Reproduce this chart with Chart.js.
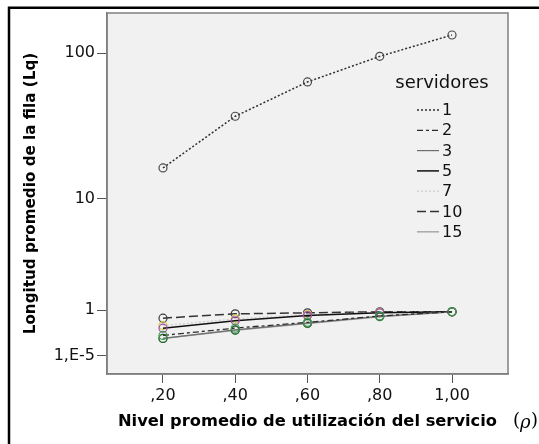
<!DOCTYPE html>
<html>
<head>
<meta charset="utf-8">
<script src="https://cdn.jsdelivr.net/npm/chart.js@4/dist/chart.umd.min.js"></script>
<style>
  html, body { margin: 0; padding: 0; background: #fff; }
  #wrap { width: 539px; height: 444px; position: relative; }
</style>
</head>
<body>
<div id="wrap"><canvas id="c" width="539" height="444"></canvas></div>
<script>
// Utilization levels (rho) and their axis labels
const RHO = [0.2, 0.4, 0.6, 0.8, 1.0];
const X_LABELS = [',20', ',40', ',60', ',80', '1,00'];

// Queue-length axis ticks
const Y_TICKS = [0.00001, 1, 10, 100];
const Y_LABELS = ['1,E-5', '1', '10', '100'];

// Number of servers for each series
const SERVERS = ['1', '2', '3', '5', '7', '10', '15'];

// Average queue length (Lq) per utilization level
const lq1  = [16.5, 37.5, 64, 95, 132];
const lq2  = [0.36, 0.52, 0.66, 0.83, 0.95];
const lq3  = [0.30, 0.48, 0.64, 0.82, 0.95];
const lq5  = [0.52, 0.70, 0.84, 0.92, 0.95];
const lq7  = [0.58, 0.75, 0.87, 0.93, 0.95];
const lq10 = [0.77, 0.89, 0.92, 0.95, 0.95];
const lq15 = [0.30, 0.47, 0.63, 0.81, 0.95];
const SERIES = [lq1, lq2, lq3, lq5, lq7, lq10, lq15];

// Line and marker look of each series
const STYLES = [
  { line: '#2e2e2e', dash: [2, 2],       width: 1.5, mark: '#4a4a4a' },
  { line: '#2e2e2e', dash: [6, 3, 3, 3], width: 1.3, mark: '#3f9a52' },
  { line: '#6e6e6e', dash: [],           width: 1.2, mark: '#2f5f38' },
  { line: '#111111', dash: [],           width: 1.5, mark: '#a04aa8' },
  { line: '#cfcfcf', dash: [2, 2],       width: 1.3, mark: '#d8c850' },
  { line: '#333333', dash: [9, 4],       width: 1.5, mark: '#3c3c3c' },
  { line: '#a8a8a8', dash: [],           width: 1.5, mark: '#4fa05a' }
];

const FONT = 'DejaVu Sans';

// "Safe log" scale: position follows sign(v)*log10(|v|+1)
const slog = v => Math.sign(v) * Math.log10(Math.abs(v) + 1);
const islog = t => Math.sign(t) * (Math.pow(10, Math.abs(t)) - 1);

class SafeLogScale extends Chart.LinearScale {
  static id = 'safelog';
  static defaults = Chart.LinearScale.defaults;
  buildTicks() {
    return Y_TICKS.map(v => ({ value: v }));
  }
  configure() {
    super.configure();
    this._tMin = slog(this.min);
    this._tMax = slog(this.max);
  }
  getPixelForValue(v) {
    return this.getPixelForDecimal((slog(v) - this._tMin) / (this._tMax - this._tMin));
  }
  getValueForPixel(p) {
    return islog(this._tMin + this.getDecimalForPixel(p) * (this._tMax - this._tMin));
  }
}
Chart.register(SafeLogScale);

const datasets = SERIES.map((vals, i) => ({
  label: SERVERS[i],
  data: vals.map((v, k) => ({ x: RHO[k], y: v })),
  borderColor: STYLES[i].line,
  borderDash: STYLES[i].dash,
  borderWidth: STYLES[i].width,
  pointRadius: 4,
  pointBorderWidth: 1.2,
  pointBorderColor: STYLES[i].mark,
  pointBackgroundColor: 'rgba(0,0,0,0)',
  fill: false,
  tension: 0
}));

// Panel background, plot frame and outer frame
const framePlugin = {
  id: 'frames',
  beforeDraw(chart) {
    const { ctx, chartArea: a } = chart;
    ctx.save();
    ctx.fillStyle = '#ffffff';
    ctx.fillRect(0, 0, chart.width, chart.height);
    ctx.fillStyle = '#f0f1f0';
    ctx.fillRect(a.left, a.top, a.right - a.left, a.bottom - a.top);
    ctx.restore();
  },
  afterDraw(chart) {
    const { ctx, chartArea: a } = chart;
    ctx.save();
    ctx.strokeStyle = '#7f7f7f';
    ctx.lineWidth = 1.5;
    ctx.strokeRect(a.left, a.top, a.right - a.left, a.bottom - a.top);
    ctx.strokeStyle = '#000';
    ctx.lineWidth = 2.5;
    ctx.beginPath();
    ctx.moveTo(9, chart.height + 2);
    ctx.lineTo(9, 7.8);
    ctx.lineTo(chart.width + 2, 7.8);
    ctx.stroke();
    ctx.restore();
  }
};

// Legend box with title inside the plot, and the rho symbol of the x title
const legendPlugin = {
  id: 'serverLegend',
  afterDraw(chart) {
    const ctx = chart.ctx;
    ctx.save();
    ctx.fillStyle = '#111';
    ctx.textBaseline = 'middle';
    ctx.textAlign = 'center';
    ctx.font = '18px "' + FONT + '"';
    ctx.fillText('servidores', 442, 83);
    ctx.textAlign = 'left';
    ctx.font = '16px "' + FONT + '"';
    chart.data.datasets.forEach((ds, i) => {
      const y = 110 + i * 20.3;
      ctx.strokeStyle = ds.borderColor;
      ctx.lineWidth = ds.borderWidth;
      ctx.setLineDash(ds.borderDash);
      ctx.beginPath();
      ctx.moveTo(417, y);
      ctx.lineTo(439, y);
      ctx.stroke();
      ctx.setLineDash([]);
      ctx.fillText(ds.label, 442, y + 1);
    });
    ctx.fillStyle = '#000';
    ctx.font = '18px "DejaVu Serif"';
    ctx.fillText('(', 513, 421);
    ctx.font = 'italic 18px "DejaVu Serif"';
    ctx.fillText('ρ', 520, 423);
    ctx.font = '18px "DejaVu Serif"';
    ctx.fillText(')', 531, 421);
    ctx.restore();
  }
};

new Chart(document.getElementById('c'), {
  type: 'line',
  data: { datasets },
  options: {
    responsive: false,
    animation: false,
    devicePixelRatio: 1,
    layout: { padding: { top: 13, right: 31, left: 0, bottom: 0 } },
    plugins: { legend: { display: false }, tooltip: { enabled: false } },
    scales: {
      x: {
        type: 'linear',
        min: 0.045,
        max: 1.155,
        afterBuildTicks: s => { s.ticks = RHO.map(v => ({ value: v })); },
        afterFit: s => { s.height = 70; },
        ticks: {
          callback: v => X_LABELS[RHO.indexOf(v)],
          font: { family: FONT, size: 16 },
          color: '#111',
          padding: 3,
          maxRotation: 0,
          autoSkip: false
        },
        grid: { drawOnChartArea: false, tickLength: 9, tickColor: '#555', tickWidth: 1 },
        border: { color: '#7f7f7f', width: 1.5 },
        title: {
          display: true,
          text: 'Nivel promedio de utilización del servicio',
          font: { family: FONT, size: 16.3, weight: 'bold' },
          color: '#000',
          padding: { top: 0, bottom: 12 }
        }
      },
      y: {
        type: 'safelog',
        min: -0.3244,
        max: 185,
        afterFit: s => { s.width = 107; },
        ticks: {
          callback: v => Y_LABELS[Y_TICKS.indexOf(v)],
          font: { family: FONT, size: 16 },
          color: '#111',
          padding: 2,
          autoSkip: false
        },
        grid: { drawOnChartArea: false, tickLength: 10, tickColor: '#555', tickWidth: 1 },
        border: { color: '#7f7f7f', width: 1.5 },
        title: {
          display: true,
          text: 'Longitud promedio de la fila (Lq)',
          font: { family: FONT, size: 15.2, weight: 'bold' },
          color: '#000',
          padding: { top: 22, bottom: 0 }
        }
      }
    }
  },
  plugins: [framePlugin, legendPlugin]
});
</script>
</body>
</html>
